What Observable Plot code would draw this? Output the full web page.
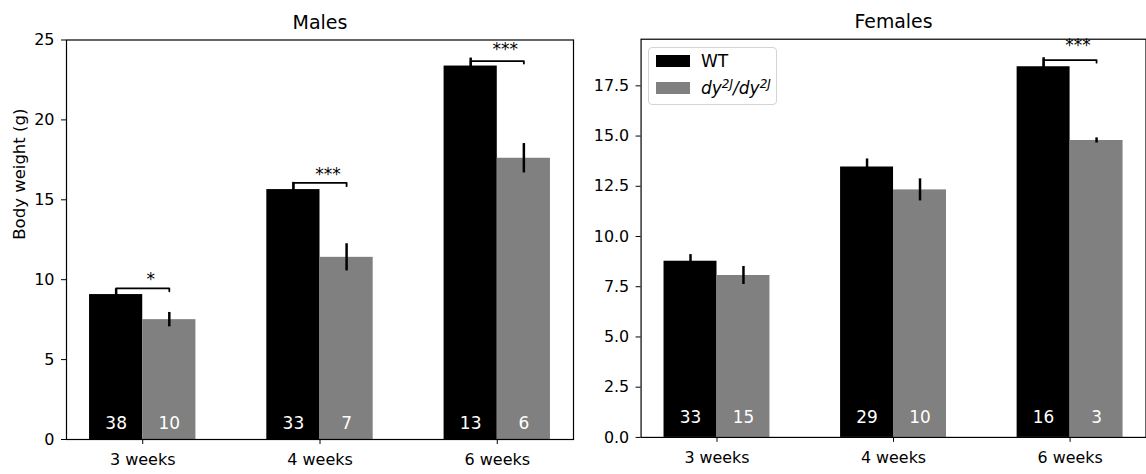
<!DOCTYPE html>
<html>
<head>
<meta charset="utf-8">
<script src="https://cdn.jsdelivr.net/npm/d3@7"></script>
<script src="https://cdn.jsdelivr.net/npm/@observablehq/plot@0.6"></script>
<style>
  html, body { margin: 0; padding: 0; background: white; overflow: hidden; }
  #fig { position: relative; width: 1146px; height: 474px; overflow: hidden; font-family: "DejaVu Sans", sans-serif; }
  #left { position: absolute; left: 0; top: 0; }
  #right { position: absolute; left: 580px; top: 0; }
  #legend { position: absolute; left: 648px; top: 47px; width: 129px; height: 58px; box-sizing: border-box;
            border: 1px solid #d4d4d4; border-radius: 4px; background: rgba(255,255,255,0.85); }
  .sw { position: absolute; left: 7px; width: 34px; height: 12px; }
  .lt { position: absolute; left: 52px; font-size: 17px; line-height: 17px; color: black; white-space: nowrap; }
  .lt sup { font-size: 12px; vertical-align: 0; position: relative; top: -6px; }
</style>
</head>
<body>
<div id="fig">
  <div id="left"></div>
  <div id="right"></div>
  <div id="legend">
    <div class="sw" style="top:7px;background:#000"></div>
    <div class="lt" style="top:5px">WT</div>
    <div class="sw" style="top:34px;background:#808080"></div>
    <div class="lt" style="top:32px"><i>dy<sup>2J</sup>/dy<sup>2J</sup></i></div>
  </div>
</div>
<script>
// ---- data ----
const groups = ["3 weeks", "4 weeks", "6 weeks"];
const seriesNames = ["WT", "dy2J/dy2J"];

// Males
const maleWT = [9.07, 15.64, 23.37];
const maleWTErr = [0.35, 0.45, 0.5];
const maleDy = [7.5, 11.4, 17.6];
const maleDyErr = [0.45, 0.85, 0.92];
const maleNWT = [38, 33, 13];
const maleNDy = [10, 7, 6];
const maleSig = ["*", "***", "***"];
const maleBracketY = [9.46, 16.06, 23.68];
const maleBracketEnd = [9.27, 15.85, 23.53];
const maleStarY = [10.28, 16.85, 24.65];
const maleTicks = [0, 5, 10, 15, 20, 25];

// Females
const femaleWT = [8.77, 13.46, 18.45];
const femaleWTErr = [0.33, 0.4, 0.45];
const femaleDy = [8.06, 12.32, 14.78];
const femaleDyErr = [0.45, 0.55, 0.13];
const femaleNWT = [33, 29, 16];
const femaleNDy = [15, 10, 3];
const femaleSig = ["", "", "***"];
const femaleBracketY = [null, null, 18.78];
const femaleBracketEnd = [null, null, 18.65];
const femaleStarY = [null, null, 19.72];
const femaleTicks = [0, 2.5, 5, 7.5, 10, 12.5, 15, 17.5];

const WT_COLOR = "#000000";
const DY_COLOR = "#808080";

function panel(opts) {
  const idx = groups.map((_, i) => i);
  const sigIdx = idx.filter(i => opts.sig[i]);
  const bracketPts = sigIdx.flatMap(i => [
    {b: i, x: i - 0.15, y: opts.wt[i]},
    {b: i, x: i - 0.15, y: opts.bracketY[i]},
    {b: i, x: i + 0.15, y: opts.bracketY[i]},
    {b: i, x: i + 0.15, y: opts.bracketEnd[i]}
  ]);
  return Plot.plot({
    width: opts.width,
    height: 474,
    marginLeft: opts.marginLeft,
    marginRight: opts.marginRight,
    marginTop: opts.marginTop,
    marginBottom: opts.marginBottom,
    style: {fontFamily: "DejaVu Sans, sans-serif", fontSize: "16px", color: "black", background: "transparent", overflow: "visible"},
    x: {domain: [-0.43, 2.43]},
    y: {domain: opts.yDomain},
    marks: [
      Plot.rectY(idx, {x1: i => i - 0.3, x2: i => i, y1: 0, y2: i => opts.wt[i], fill: WT_COLOR}),
      Plot.rectY(idx, {x1: i => i, x2: i => i + 0.3, y1: 0, y2: i => opts.dy[i], fill: DY_COLOR}),
      Plot.ruleX(idx, {x: i => i - 0.15, y1: i => opts.wt[i] - opts.wtErr[i], y2: i => opts.wt[i] + opts.wtErr[i], stroke: "black", strokeWidth: 2.5}),
      Plot.ruleX(idx, {x: i => i + 0.15, y1: i => opts.dy[i] - opts.dyErr[i], y2: i => opts.dy[i] + opts.dyErr[i], stroke: "black", strokeWidth: 2.5}),
      Plot.line(bracketPts, {x: "x", y: "y", z: "b", stroke: "black", strokeWidth: 1.8, curve: "linear"}),
      Plot.text(sigIdx, {x: i => i, y: i => opts.starY[i], text: i => opts.sig[i], fontSize: 17, dx: 8, dy: 4, fill: "black"}),
      Plot.text(idx, {x: i => i - 0.15, y: 1, text: i => String(opts.nWT[i]), fill: "white", fontSize: 17}),
      Plot.text(idx, {x: i => i + 0.15, y: 1, text: i => String(opts.nDy[i]), fill: "white", fontSize: 17}),
      Plot.axisX({ticks: [0, 1, 2], tickFormat: i => groups[i], tickSize: 5, tickPadding: 9, label: null, fontSize: 16}),
      Plot.axisY({ticks: opts.ticks, tickFormat: opts.tickFormat, tickSize: 5, tickPadding: 7, label: null, fontSize: 16}),
      Plot.frame({stroke: "black", strokeWidth: 1.2}),
      Plot.text([opts.title], {frameAnchor: "top", dy: -25, fontSize: 19, fill: "black"}),
      ...(opts.ylabel ? [Plot.text([opts.ylabel], {frameAnchor: "left", rotate: -90, dx: -47, fontSize: 16.5, fill: "black"})] : [])
    ]
  });
}

document.getElementById("left").append(panel({
  width: 580, marginLeft: 66, marginRight: 7, marginTop: 39.5, marginBottom: 35,
  yDomain: [0, 25], ticks: maleTicks, tickFormat: d3.format("d"),
  wt: maleWT, wtErr: maleWTErr, dy: maleDy, dyErr: maleDyErr,
  nWT: maleNWT, nDy: maleNDy, sig: maleSig,
  bracketY: maleBracketY, bracketEnd: maleBracketEnd, starY: maleStarY,
  title: "Males", ylabel: "Body weight (g)"
}));

document.getElementById("right").append(panel({
  width: 570, marginLeft: 61, marginRight: 0.5, marginTop: 39, marginBottom: 34,
  yDomain: [0, 19.82], ticks: femaleTicks, tickFormat: d3.format(".1f"),
  wt: femaleWT, wtErr: femaleWTErr, dy: femaleDy, dyErr: femaleDyErr,
  nWT: femaleNWT, nDy: femaleNDy, sig: femaleSig,
  bracketY: femaleBracketY, bracketEnd: femaleBracketEnd, starY: femaleStarY,
  title: "Females", ylabel: null
}));
</script>
</body>
</html>
